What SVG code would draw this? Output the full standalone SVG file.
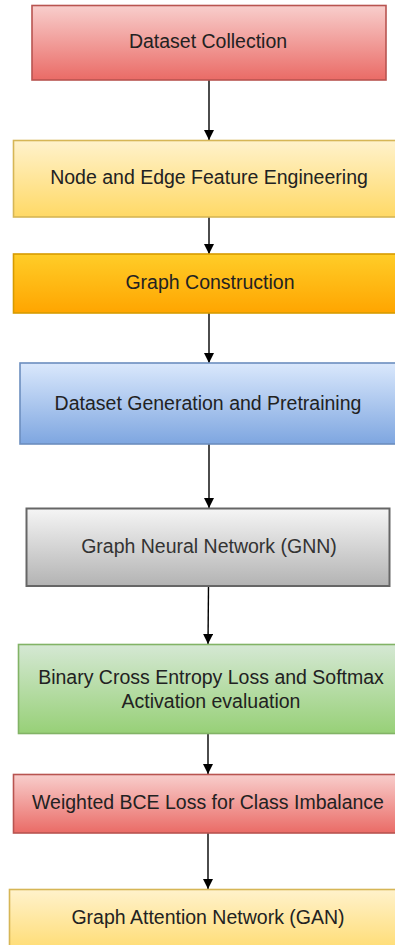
<svg xmlns="http://www.w3.org/2000/svg" width="395" height="945" viewBox="0 0 395 945">
<style>
.t{font-family:"Liberation Sans",Arial,sans-serif;font-size:19.5px;fill:#222;text-anchor:middle;dominant-baseline:central}
.box{stroke-width:1.6}
.edge{stroke:#000;stroke-width:1.4;fill:none}
</style>
<defs>
<linearGradient id="gRed" x1="0" y1="0" x2="0" y2="1"><stop offset="0" stop-color="#f8cecc"/><stop offset="1" stop-color="#ea6b66"/></linearGradient>
<linearGradient id="gYel" x1="0" y1="0" x2="0" y2="1"><stop offset="0" stop-color="#fff2cc"/><stop offset="1" stop-color="#ffd966"/></linearGradient>
<linearGradient id="gOra" x1="0" y1="0" x2="0" y2="1"><stop offset="0" stop-color="#ffcd28"/><stop offset="1" stop-color="#ffa500"/></linearGradient>
<linearGradient id="gBlu" x1="0" y1="0" x2="0" y2="1"><stop offset="0" stop-color="#dae8fc"/><stop offset="1" stop-color="#7ea6e0"/></linearGradient>
<linearGradient id="gGry" x1="0" y1="0" x2="0" y2="1"><stop offset="0" stop-color="#f5f5f5"/><stop offset="1" stop-color="#b3b3b3"/></linearGradient>
<linearGradient id="gGrn" x1="0" y1="0" x2="0" y2="1"><stop offset="0" stop-color="#d5e8d4"/><stop offset="1" stop-color="#97d077"/></linearGradient>
<marker id="arr" viewBox="0 0 10 10" refX="10" refY="5" markerWidth="10" markerHeight="10" markerUnits="userSpaceOnUse" orient="auto">
<path d="M0,0 L10,5 L0,10 Z" fill="#000"/>
</marker>
</defs>
<g id="edges">
<line class="edge" x1="209" y1="80" x2="209" y2="140" marker-end="url(#arr)"/>
<line class="edge" x1="209" y1="217" x2="209" y2="254" marker-end="url(#arr)"/>
<line class="edge" x1="209" y1="313" x2="209" y2="363" marker-end="url(#arr)"/>
<line class="edge" x1="209" y1="444" x2="209" y2="508" marker-end="url(#arr)"/>
<line class="edge" x1="208.5" y1="586" x2="208" y2="644" marker-end="url(#arr)"/>
<line class="edge" x1="208" y1="734" x2="208" y2="774" marker-end="url(#arr)"/>
<line class="edge" x1="208" y1="833" x2="208" y2="889" marker-end="url(#arr)"/>
</g>
<g id="n1"><rect class="box" x="32" y="5.5" width="354" height="74.5" fill="url(#gRed)" stroke="#b85450"/><text class="t" x="208" y="41">Dataset Collection</text></g>
<g id="n2"><rect class="box" x="13.5" y="140.5" width="400" height="76.5" fill="url(#gYel)" stroke="#d6b656"/><text class="t" x="209" y="177">Node and Edge Feature Engineering</text></g>
<g id="n3"><rect class="box" x="13.5" y="254" width="400" height="59" fill="url(#gOra)" stroke="#d79b00"/><text class="t" x="210" y="282">Graph Construction</text></g>
<g id="n4"><rect class="box" x="20" y="363" width="400" height="81" fill="url(#gBlu)" stroke="#6c8ebf"/><text class="t" x="208" y="403">Dataset Generation and Pretraining</text></g>
<g id="n5"><rect x="26.5" y="508.5" width="363" height="77.5" fill="url(#gGry)" stroke="#666" stroke-width="2"/><text class="t" x="209" y="546" style="fill:#333">Graph Neural Network (GNN)</text></g>
<g id="n6"><rect class="box" x="18.5" y="644.5" width="400" height="89" fill="url(#gGrn)" stroke="#82b366"/><text class="t" x="211" y="677">Binary Cross Entropy Loss and Softmax</text><text class="t" x="211" y="701">Activation evaluation</text></g>
<g id="n7"><rect class="box" x="13.5" y="774.5" width="400" height="58.5" fill="url(#gRed)" stroke="#b85450"/><text class="t" x="208" y="802">Weighted BCE Loss for Class Imbalance</text></g>
<g id="n8"><rect class="box" x="9.5" y="889.5" width="400" height="70" fill="url(#gYel)" stroke="#d6b656"/><text class="t" x="208" y="917">Graph Attention Network (GAN)</text></g>
</svg>
